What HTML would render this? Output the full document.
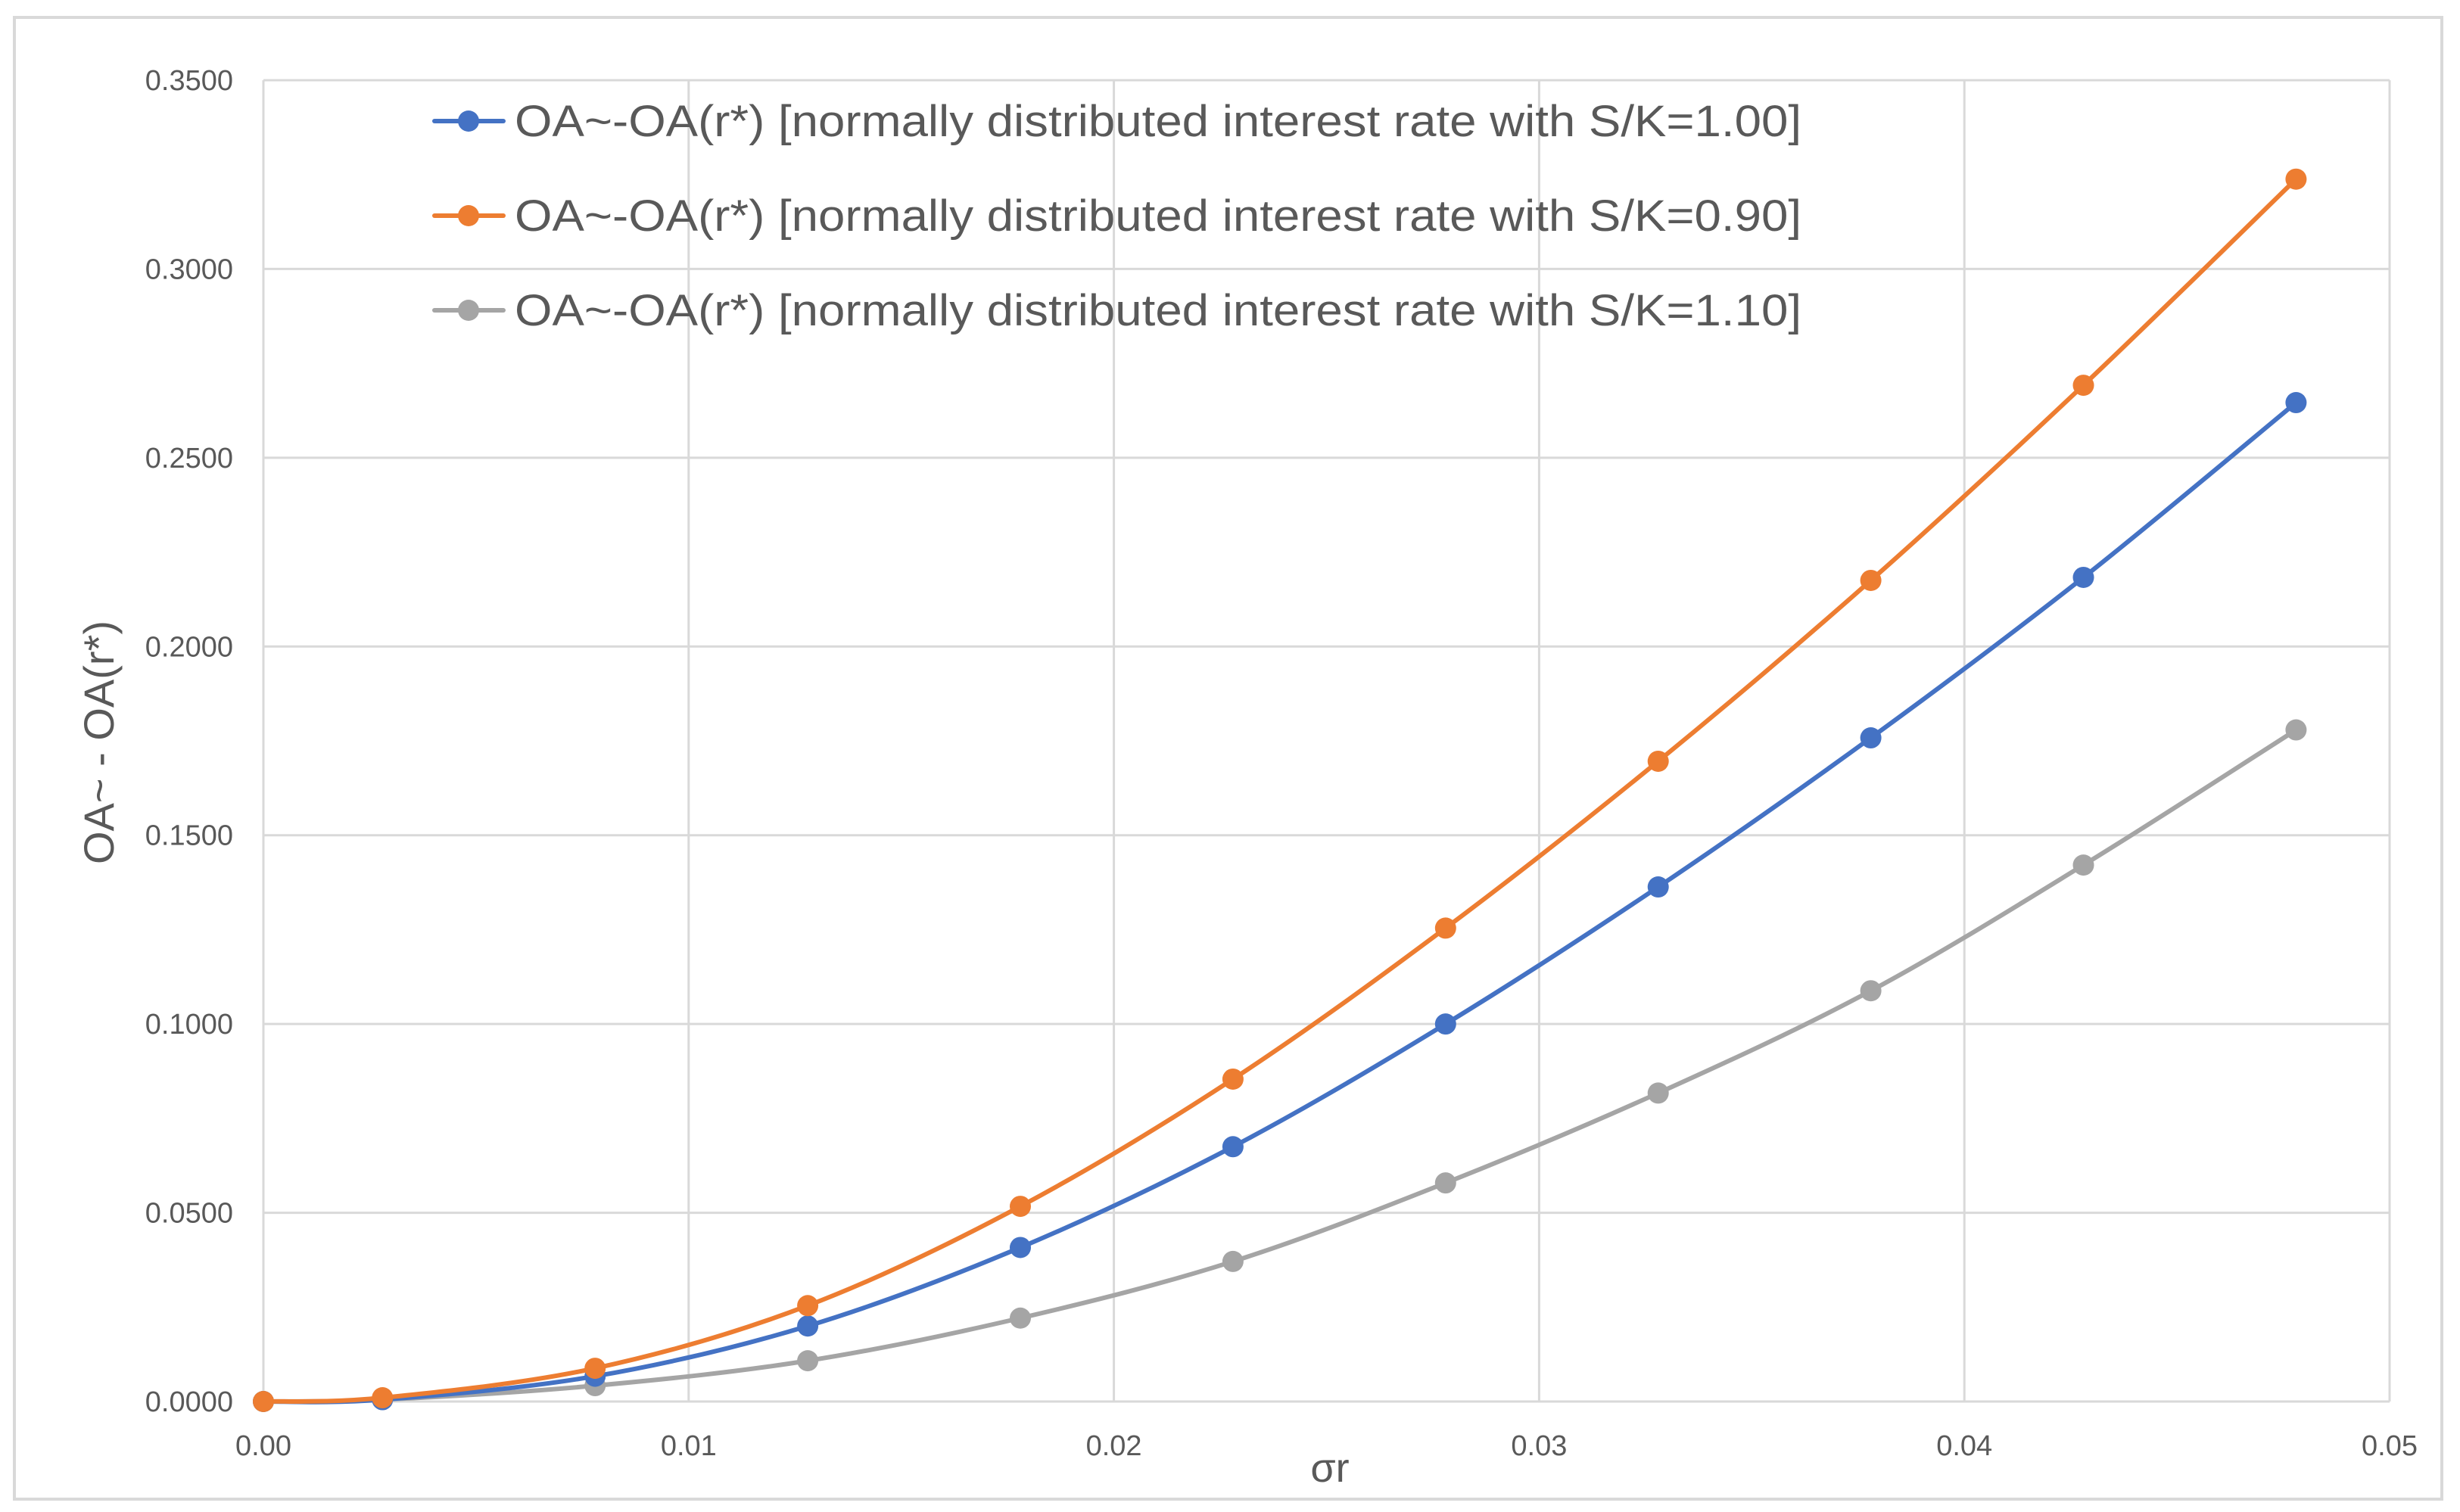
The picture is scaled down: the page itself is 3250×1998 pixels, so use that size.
<!DOCTYPE html>
<html><head><meta charset="utf-8">
<style>
html,body{margin:0;padding:0;background:#fff;}
svg{display:block;font-family:"Liberation Sans",sans-serif;}
</style></head>
<body>
<svg id="chart" width="3250" height="1998" viewBox="0 0 3250 1998" xmlns="http://www.w3.org/2000/svg">
<rect x="19" y="23" width="3207" height="1958" fill="#fff" stroke="#d9d9d9" stroke-width="4"/>
<g id="grid"></g>
<g id="yticks"></g>
<g id="xticks"></g>
<g id="series"></g>
<g id="legend"></g>
<text x="1757" y="1958" font-size="54" fill="#595959" text-anchor="middle">σr</text>
<text x="150" y="981" font-size="56" fill="#595959" text-anchor="middle" transform="rotate(-90 150 981)">OA~ - OA(r*)</text>
</svg>
<script>
const xValues = [0, 0.0028, 0.0078, 0.0128, 0.0178, 0.0228, 0.0278, 0.0328, 0.0378, 0.0428, 0.0478];
const seriesSK100 = [0, 0.0005, 0.0067, 0.0200, 0.0408, 0.0675, 0.1000, 0.1363, 0.1758, 0.2183, 0.2646];
const seriesSK090 = [0, 0.0010, 0.0088, 0.0254, 0.0517, 0.0854, 0.1254, 0.1696, 0.2175, 0.2692, 0.3238];
const seriesSK110 = [0, 0.0005, 0.0042, 0.0108, 0.0221, 0.0371, 0.0579, 0.0817, 0.1088, 0.1421, 0.1779];
const seriesNames = ["OA~-OA(r*) [normally distributed interest rate with S/K=1.00]","OA~-OA(r*) [normally distributed interest rate with S/K=0.90]","OA~-OA(r*) [normally distributed interest rate with S/K=1.10]"];
const yTicks = [0, 0.05, 0.1, 0.15, 0.2, 0.25, 0.3, 0.35];
const yTickLabels = ["0.0000","0.0500","0.1000","0.1500","0.2000","0.2500","0.3000","0.3500"];
const xTicks = [0, 0.01, 0.02, 0.03, 0.04, 0.05];
const xTickLabels = ["0.00","0.01","0.02","0.03","0.04","0.05"];

const NS="http://www.w3.org/2000/svg";
const L=348,R=3157,T=106,B=1852;
const xs=v=>L+(v-0)/(0.05)*(R-L);
const ys=v=>B-(v/0.35)*(B-T);
function mk(tag,attrs,parent){const e=document.createElementNS(NS,tag);for(const k in attrs)e.setAttribute(k,attrs[k]);parent.appendChild(e);return e;}
const grid=document.getElementById('grid'),yt=document.getElementById('yticks'),xt=document.getElementById('xticks'),sg=document.getElementById('series'),lg=document.getElementById('legend');
yTicks.forEach((v,i)=>{
  const l=mk('line',{x1:L,x2:R,y1:ys(v),y2:ys(v),stroke:'#d9d9d9','stroke-width':3},grid);
  
  
  const t=mk('text',{x:308,y:ys(v)+13,'font-size':38,fill:'#595959','text-anchor':'end'},yt);
  t.textContent=yTickLabels[i];
  
  
});
xTicks.forEach((v,i)=>{
  const l=mk('line',{x1:xs(v),x2:xs(v),y1:T,y2:B,stroke:'#d9d9d9','stroke-width':3},grid);
  
  
  const t=mk('text',{x:xs(v),y:1923,'font-size':38,fill:'#595959','text-anchor':'middle'},xt);
  t.textContent=xTickLabels[i];
  
  
});
function smooth(pts){
  let d=`M${pts[0][0]},${pts[0][1]}`;
  for(let i=0;i<pts.length-1;i++){
    const p0=pts[Math.max(i-1,0)],p1=pts[i],p2=pts[i+1],p3=pts[Math.min(i+2,pts.length-1)];
    const c1=[p1[0]+(p2[0]-p0[0])/6,p1[1]+(p2[1]-p0[1])/6];
    const c2=[p2[0]-(p3[0]-p1[0])/6,p2[1]-(p3[1]-p1[1])/6];
    d+=` C${c1[0]},${c1[1]} ${c2[0]},${c2[1]} ${p2[0]},${p2[1]}`;
  }
  return d;
}
const allSeries=[seriesSK100,seriesSK090,seriesSK110];
const colors=["#4472c4","#ed7d31","#a5a5a5"];
const ids=["sk-100","sk-090","sk-110"];
[2,0,1].forEach(si=>{
  const vals=allSeries[si];
  const pts=xValues.map((x,i)=>[xs(x),ys(vals[i])]);
  const p=mk('path',{d:smooth(pts),fill:'none',stroke:colors[si],'stroke-width':6,'stroke-linejoin':'round'},sg);
  
  
  pts.forEach(q=>{
    const c=mk('circle',{cx:q[0],cy:q[1],r:14,fill:colors[si]},sg);
    
    
  });
});
seriesNames.forEach((n,i)=>{
  const y=160+i*125;
  const l=mk('line',{x1:574,x2:665,y1:y,y2:y,stroke:colors[i],'stroke-width':6,'stroke-linecap':'round'},lg);
  
  
  const c=mk('circle',{cx:619,cy:y,r:14,fill:colors[i]},lg);
  
  
  const t=mk('text',{x:680,y:y+20,'font-size':58,fill:'#595959',textLength:1700,lengthAdjust:'spacingAndGlyphs'},lg);
  t.textContent=n;
  
  
});
</script>
</body></html>
